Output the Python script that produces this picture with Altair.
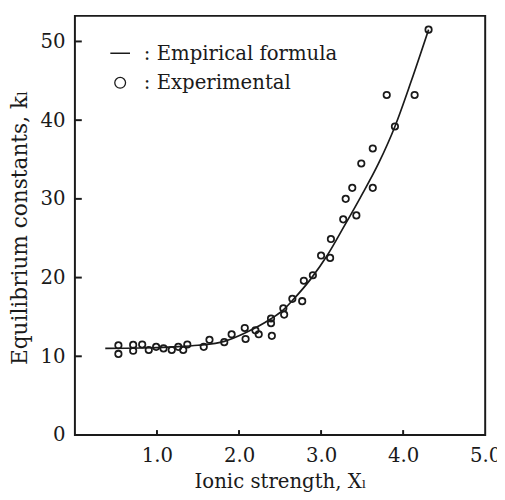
import altair as alt
import pandas as pd

# Experimental points (ionic strength, equilibrium constant)
exp_x = [0.53, 0.53, 0.71, 0.71, 0.82, 0.90, 0.99, 1.08, 1.18, 1.26, 1.32, 1.37,
         1.57, 1.64, 1.82, 1.91, 2.07, 2.08, 2.20, 2.24, 2.39, 2.39, 2.40, 2.54,
         2.55, 2.65, 2.77, 2.79, 2.90, 3.00, 3.11, 3.12, 3.27, 3.30, 3.38, 3.43,
         3.49, 3.63, 3.63, 3.80, 3.90, 4.14, 4.31]
exp_y = [11.4, 10.3, 11.45, 10.7, 11.5, 10.8, 11.2, 11.0, 10.8, 11.2, 10.8, 11.5,
         11.2, 12.1, 11.8, 12.8, 13.6, 12.2, 13.3, 12.8, 14.8, 14.2, 12.6, 16.1,
         15.3, 17.3, 17.0, 19.6, 20.3, 22.8, 22.5, 24.9, 27.4, 30.0, 31.4, 27.9,
         34.5, 31.4, 36.4, 43.2, 39.2, 43.2, 51.5]

# Empirical formula curve
fit_x = [0.37, 0.8, 1.2, 1.5, 1.82, 2.08, 2.38, 2.54, 2.66, 2.88, 3.08, 3.28,
         3.48, 3.70, 3.90, 4.10, 4.31]
fit_y = [11.0, 11.05, 11.2, 11.4, 11.9, 13.0, 14.7, 15.9, 17.2, 19.9, 22.9, 26.5,
         30.2, 34.5, 39.2, 45.0, 51.5]

x_ticks = [1, 2, 3, 4, 5]
y_ticks = [0, 10, 20, 30, 40, 50]
x_inner_ticks = [1, 2, 3, 4]
y_inner_ticks = [10, 20, 30, 40, 50]

legend_line = ": Empirical formula"
legend_point = ": Experimental"
x_title = "Ionic strength, X\u2097"
y_title = "Equilibrium constants, k\u2097"

FONT = "DejaVu Serif"
INK = "#1a1a1a"
W, H = 417, 426

exp_df = pd.DataFrame({"x": exp_x, "y": exp_y})
fit_df = pd.DataFrame({"x": fit_x, "y": fit_y})
xt_df = pd.DataFrame({"x": x_inner_ticks})
yt_df = pd.DataFrame({"y": y_inner_ticks})
one = pd.DataFrame({"a": [0]})

xscale = alt.Scale(domain=[0, 5], nice=False, zero=False)
yscale = alt.Scale(domain=[0, 53.25], nice=False, zero=False)

xaxis = alt.Axis(values=x_ticks, format=".1f", ticks=False, domain=False, grid=False,
                 labelFont=FONT, labelFontSize=20, labelColor=INK, labelPadding=11,
                 labelFlush=False, labelOverlap=False,
                 title=x_title, titleFont=FONT, titleFontSize=20, titleFontWeight="normal",
                 titleColor=INK, titleX=W / 2, titleY=53, titleBaseline="alphabetic",
                 titleAlign="center")
yaxis = alt.Axis(values=y_ticks, format="d", ticks=False, domain=False, grid=False,
                 labelFont=FONT, labelFontSize=20, labelColor=INK, labelPadding=10,
                 labelFlush=False, labelOverlap=False,
                 title=y_title, titleFont=FONT, titleFontSize=22, titleFontWeight="normal",
                 titleColor=INK, titleX=-49, titleY=H / 2 + 2, titleAngle=-90,
                 titleBaseline="alphabetic", titleAlign="center")

points = alt.Chart(exp_df).mark_point(shape="circle", filled=False, size=42,
                                      strokeWidth=1.8, color=INK, opacity=1).encode(
    x=alt.X("x:Q", scale=xscale, axis=xaxis),
    y=alt.Y("y:Q", scale=yscale, axis=yaxis),
)

curve = alt.Chart(fit_df).mark_line(color=INK, strokeWidth=1.7, interpolate="monotone").encode(
    x=alt.X("x:Q", scale=xscale),
    y=alt.Y("y:Q", scale=yscale),
)

xticks = alt.Chart(xt_df).mark_rule(color=INK, strokeWidth=2).encode(
    x=alt.X("x:Q", scale=xscale),
    y=alt.value(H),
    y2=alt.value(H - 5),
)
yticks = alt.Chart(yt_df).mark_rule(color=INK, strokeWidth=2).encode(
    y=alt.Y("y:Q", scale=yscale),
    x=alt.value(0),
    x2=alt.value(7),
)

leg_dash = alt.Chart(one).mark_rule(color=INK, strokeWidth=1.5).encode(
    x=alt.value(36), x2=alt.value(56), y=alt.value(38))
leg_circle = alt.Chart(one).mark_point(shape="circle", filled=False, size=120,
                                       strokeWidth=1.3, color=INK, opacity=1).encode(
    x=alt.value(46), y=alt.value(68))
leg_t1 = alt.Chart(one).mark_text(text=legend_line, font=FONT, fontSize=20, color=INK,
                                  align="left", baseline="alphabetic").encode(
    x=alt.value(70), y=alt.value(45))
leg_t2 = alt.Chart(one).mark_text(text=legend_point, font=FONT, fontSize=20, color=INK,
                                  align="left", baseline="alphabetic").encode(
    x=alt.value(70), y=alt.value(74))

chart = alt.layer(points, curve, xticks, yticks, leg_dash, leg_circle, leg_t1, leg_t2).properties(
    width=W, height=H,
    autosize=alt.AutoSizeParams(type="none"),
    padding={"left": 68, "top": 4, "right": 12, "bottom": 58},
    background="white",
).configure_view(stroke=INK, strokeWidth=2)

chart.save("out.html", embed_options={"renderer": "svg", "actions": False})
